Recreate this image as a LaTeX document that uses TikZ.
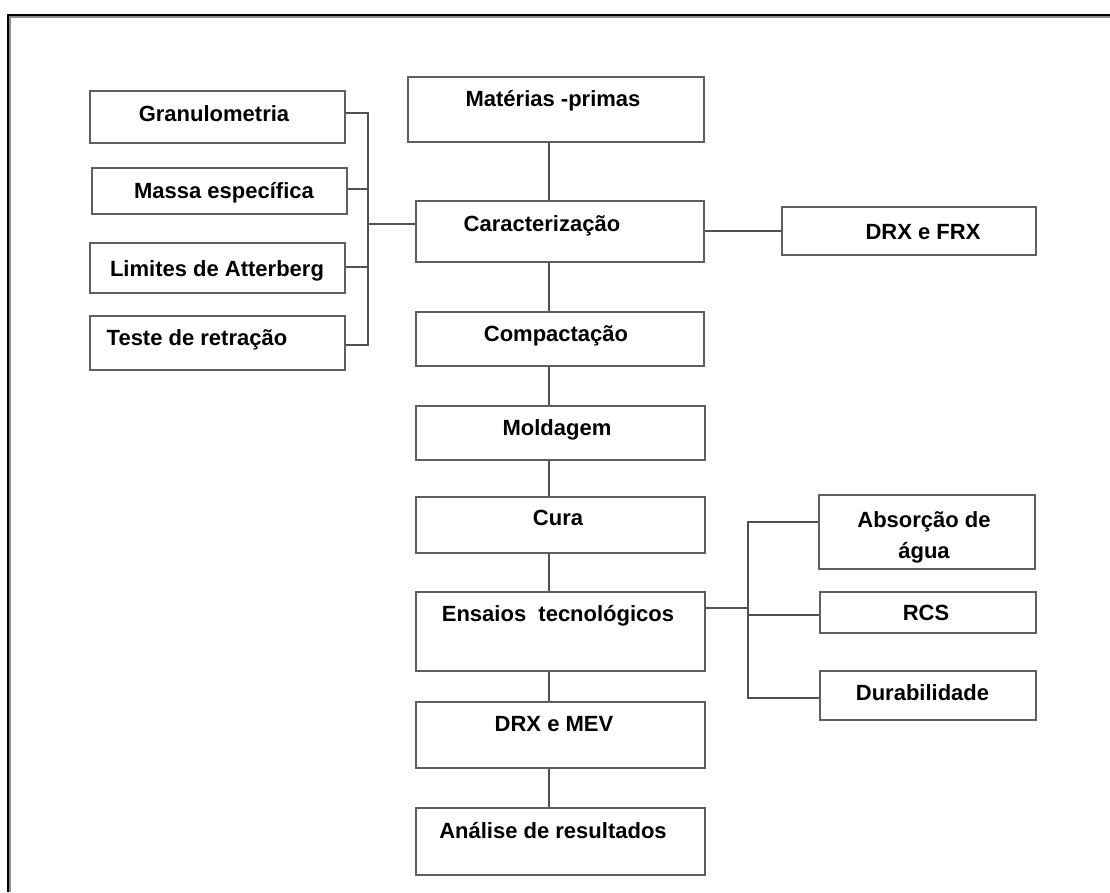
\documentclass[tikz,border=0pt]{standalone}
\usepackage{fontspec}
\setmainfont{Liberation Sans}
\usepackage{xcolor}
\usepackage{tikz}
\usetikzlibrary{positioning}

\definecolor{boxline}{HTML}{5F5F5F}
\definecolor{conline}{HTML}{505050}

\tikzset{
  stage/.style={draw=boxline, line width=1.3pt, rectangle, inner sep=0pt},
  lbl/.style={anchor=base, inner sep=0pt, font=\fontsize{22}{31}\selectfont\bfseries, align=center},
  con/.style={draw=conline, line width=1.2pt},
}

\begin{document}
\begin{tikzpicture}[x=1pt, y=-1pt]
            \useasboundingbox (0,0) rectangle (1110,892);
            % moldura
            \draw[black!45, line width=1.5pt] (9.9,892) -- (9.9,16.9) -- (1110,16.9);
            \draw[black, line width=2pt] (8,892) -- (8,15) -- (1110,15);

            % coluna central
            \node[stage, minimum width=296pt, minimum height=65pt] (materias) at (556,109.5) {};
            \node[stage, minimum width=288pt, minimum height=61pt] (caract) at (560,231.5) {};
            \node[stage, minimum width=288pt, minimum height=54pt] (compact) at (560,339) {};
            \node[stage, minimum width=289pt, minimum height=54pt] (molda) at (560.5,433) {};
            \node[stage, minimum width=289pt, minimum height=56pt] (cura) at (560.5,525) {};
            \node[stage, minimum width=289pt, minimum height=79pt] (ensaios) at (560.5,631.5) {};
            \node[stage, minimum width=289pt, minimum height=66pt] (drxmev) at (560.5,735) {};
            \node[stage, minimum width=289pt, minimum height=67pt] (analise) at (560.5,841.5) {};

            \node[lbl] (materias-t) at (553,106) {Matérias -primas};
            \node[lbl] (caract-t) at (542,231) {Caracterização};
            \node[lbl] (compact-t) at (556,341) {Compactação};
            \node[lbl] (molda-t) at (557,435) {Moldagem};
            \node[lbl] (cura-t) at (558,525) {Cura};
            \node[lbl] (ensaios-t) at (558,621) {Ensaios\ \ tecnológicos};
            \node[lbl] (drxmev-t) at (554,731) {DRX e MEV};
            \node[lbl] (analise-t) at (553,838) {Análise de resultados};

            % ensaios de caracterizacao (esquerda)
            \node[stage, minimum width=255pt, minimum height=52pt] (granulo) at (217.5,117) {};
            \node[stage, minimum width=255pt, minimum height=46pt] (massa) at (219.5,191) {};
            \node[stage, minimum width=255pt, minimum height=50pt] (limites) at (217.5,268) {};
            \node[stage, minimum width=255pt, minimum height=54pt] (teste) at (217.5,343) {};

            \node[lbl] (granulo-t) at (214,121) {Granulometria};
            \node[lbl] (massa-t) at (224,198) {Massa específica};
            \node[lbl] (limites-t) at (217,276) {Limites de Atterberg};
            \node[lbl] (teste-t) at (197,345) {Teste de retração};

            % direita
            \node[stage, minimum width=254pt, minimum height=48pt] (drxfrx) at (909,231) {};
            \node[lbl] (drxfrx-t) at (923,239) {DRX e FRX};

            \node[stage, minimum width=216pt, minimum height=74pt] (absorcao) at (927,532) {};
            \node[stage, minimum width=216pt, minimum height=41pt] (rcs) at (928,612.5) {};
            \node[stage, minimum width=216pt, minimum height=49pt] (durab) at (928,695.5) {};

            \node[lbl] (absorcao-t) at (924,558) {Absorção de\\água};
            \node[lbl] (rcs-t) at (926,620) {RCS};
            \node[lbl] (durab-t) at (922.5,700) {Durabilidade};

            % ligacoes
            \coordinate (spine) at (549,0);
            \coordinate (lbus) at (368,224);
            \coordinate (rbus) at (748,608);

            \draw[con] (materias.south -| spine) -- (caract.north -| spine);
            \draw[con] (caract.south -| spine) -- (compact.north -| spine);
            \draw[con] (compact.south -| spine) -- (molda.north -| spine);
            \draw[con] (molda.south -| spine) -- (cura.north -| spine);
            \draw[con] (cura.south -| spine) -- (ensaios.north -| spine);
            \draw[con] (ensaios.south -| spine) -- (drxmev.north -| spine);
            \draw[con] (drxmev.south -| spine) -- (analise.north -| spine);

            \draw[con] ([yshift=4pt]granulo.east) -| (lbus) |- ([yshift=-2pt]teste.east);
            \draw[con] ([yshift=2pt]massa.east) -- ([yshift=2pt]massa.east -| lbus);
            \draw[con] ([yshift=1pt]limites.east) -- ([yshift=1pt]limites.east -| lbus);
            \draw[con] (lbus) -- (lbus -| caract.west);

            \draw[con] (caract.east |- drxfrx.west) -- (drxfrx.west);

            \draw[con] (ensaios.east |- rbus) -- (rbus);
            \draw[con] ([yshift=10pt]absorcao.west) -| (rbus) |- ([yshift=-2.5pt]durab.west);
            \draw[con] (rbus |- rcs.west) ++(0,2.5) -- ([yshift=-2.5pt]rcs.west);
\end{tikzpicture}
\end{document}
